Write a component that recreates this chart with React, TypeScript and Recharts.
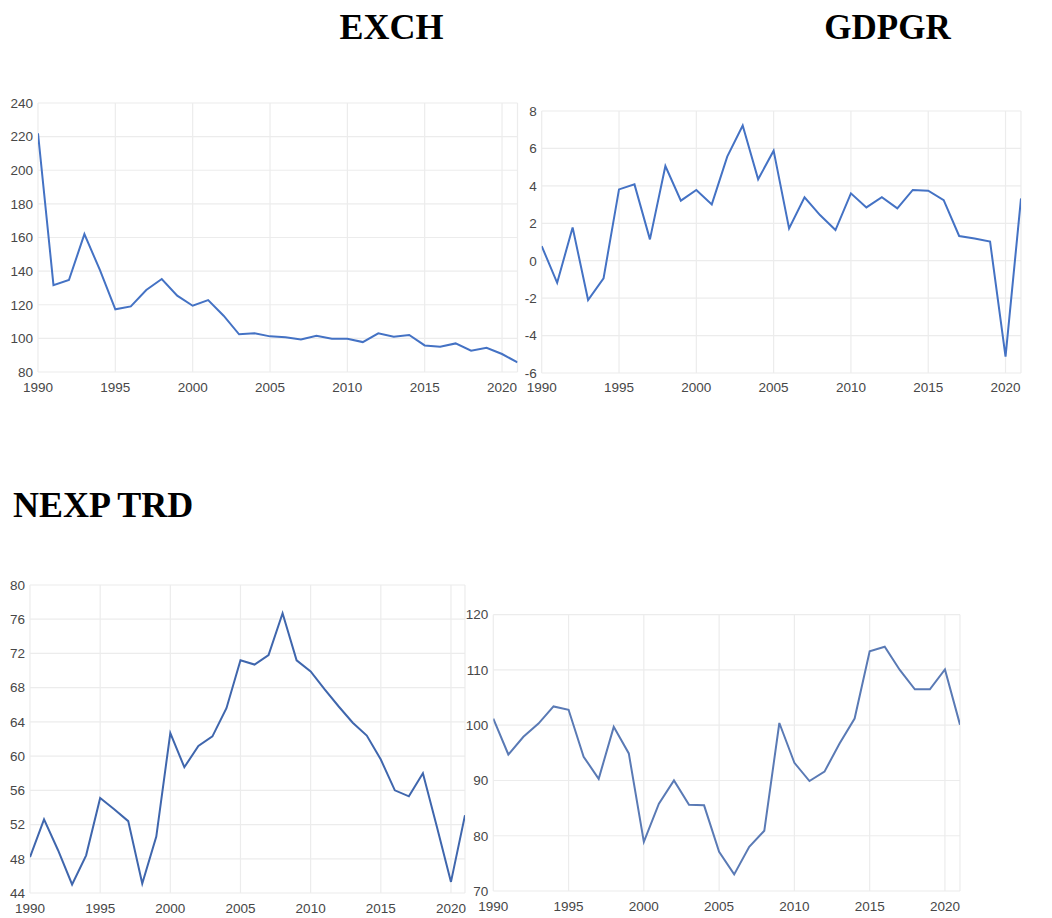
import React from 'react';
import { LineChart, Line, XAxis, YAxis, CartesianGrid } from 'recharts';

const years = [1990, 1991, 1992, 1993, 1994, 1995, 1996, 1997, 1998, 1999, 2000, 2001, 2002, 2003, 2004, 2005, 2006, 2007, 2008, 2009, 2010, 2011, 2012, 2013, 2014, 2015, 2016, 2017, 2018, 2019, 2020, 2021];
const exch = [222, 131.7, 134.7, 162, 140.7, 117.3, 119, 128.8, 135.3, 125.4, 119.4, 122.8, 113.5, 102.4, 103, 101.2, 100.6, 99.4, 101.6, 99.8, 99.8, 97.8, 103, 101, 102, 95.8, 95, 97, 92.7, 94.4, 90.7, 85.7];
const gdpgr = [0.78, -1.18, 1.78, -2.1, -0.94, 3.81, 4.08, 1.14, 5.06, 3.21, 3.78, 3.01, 5.56, 7.22, 4.35, 5.88, 1.73, 3.39, 2.44, 1.64, 3.6, 2.85, 3.39, 2.8, 3.78, 3.74, 3.24, 1.32, 1.19, 1.02, -5.13, 3.33];
const nexp = [48.2, 52.6, 49.0, 45.0, 48.4, 55.1, 53.8, 52.4, 45.1, 50.6, 62.7, 58.7, 61.2, 62.3, 65.6, 71.2, 70.7, 71.8, 76.7, 71.2, 69.9, 67.8, 65.8, 63.9, 62.4, 59.6, 56.0, 55.3, 58.0, 51.7, 45.3, 53.1];
const trd = [101.2, 94.7, 97.9, 100.3, 103.4, 102.8, 94.3, 90.3, 99.7, 94.9, 78.9, 85.8, 90.0, 85.6, 85.5, 77.1, 73.0, 78.0, 80.9, 100.4, 93.2, 89.9, 91.6, 96.7, 101.2, 113.4, 114.2, 110, 106.5, 106.5, 110.1, 100.1];

const xTicks = [1990, 1995, 2000, 2005, 2010, 2015, 2020];
const exchTicks = [80, 100, 120, 140, 160, 180, 200, 220, 240];
const gdpgrTicks = [-6, -4, -2, 0, 2, 4, 6, 8];
const nexpTicks = [44, 48, 52, 56, 60, 64, 68, 72, 76, 80];
const trdTicks = [70, 80, 90, 100, 110, 120];

const titles = [
  { text: 'EXCH', x: 391.5, y: 39, anchor: 'middle', size: 36 },
  { text: 'GDPGR', x: 887.5, y: 38.5, anchor: 'middle', size: 35 },
  { text: 'NEXP TRD', x: 13, y: 517, anchor: 'start', size: 36 },
];

const build = (vals: number[]) => years.map((y, i) => ({ year: y, v: vals[i] }));

type PanelProps = {
  left: number; top: number; width: number; height: number;
  mTop: number; mRight: number; yWidth: number; xHeight: number;
  data: { year: number; v: number }[];
  yTicks: number[]; color: string; tickMargin: number;
};

const tickStyle = { fill: '#474747', fontSize: 13.5, fontFamily: 'Liberation Sans, Arial, sans-serif' };

function Panel(p: PanelProps) {
  return (
    <div style={{ position: 'absolute', left: p.left, top: p.top }}>
      <LineChart width={p.width} height={p.height} data={p.data}
        margin={{ top: p.mTop, right: p.mRight, left: 0, bottom: 0 }}>
        <CartesianGrid stroke="#ececec" strokeWidth={1.2} />
        <XAxis dataKey="year" type="number" domain={[1990, 2021]} ticks={xTicks}
          axisLine={false} tickLine={false} tickSize={0} tickMargin={p.tickMargin}
          height={p.xHeight} tick={tickStyle} interval={0} allowDataOverflow />
        <YAxis type="number" domain={[p.yTicks[0], p.yTicks[p.yTicks.length - 1]]} ticks={p.yTicks}
          axisLine={false} tickLine={false} tickSize={0} tickMargin={5}
          width={p.yWidth} tick={tickStyle} interval={0} allowDataOverflow />
        <Line type="linear" dataKey="v" stroke={p.color} strokeWidth={2} dot={false}
          isAnimationActive={false} />
      </LineChart>
    </div>
  );
}

export default function App() {
  return (
    <div style={{ position: 'absolute', left: 0, top: 0, width: 1052, height: 918, background: '#fff', overflow: 'hidden' }}>
      <svg width={1052} height={918} style={{ position: 'absolute', left: 0, top: 0 }}>
        {titles.map((t) => (
          <text key={t.text} x={t.x} y={t.y} textAnchor={t.anchor as any}
            style={{ fontFamily: 'Liberation Serif, Times New Roman, serif', fontWeight: 'bold', fontSize: t.size }} fill="#000">
            {t.text}
          </text>
        ))}
      </svg>
      <Panel left={0} top={90} width={530} height={320} mTop={13} mRight={12.5} yWidth={38} xHeight={38}
        data={build(exch)} yTicks={exchTicks} color="#4472C4" tickMargin={10} />
      <Panel left={500} top={90} width={552} height={320} mTop={21} mRight={31} yWidth={41.7} xHeight={37}
        data={build(gdpgr)} yTicks={gdpgrTicks} color="#4472C4" tickMargin={9} />
      <Panel left={0} top={570} width={480} height={348} mTop={15} mRight={15} yWidth={30} xHeight={25}
        data={build(nexp)} yTicks={nexpTicks} color="#3f66ad" tickMargin={10} />
      <Panel left={460} top={590} width={520} height={328} mTop={24.7} mRight={20} yWidth={33.3} xHeight={27}
        data={build(trd)} yTicks={trdTicks} color="#5a7ab5" tickMargin={10} />
    </div>
  );
}
